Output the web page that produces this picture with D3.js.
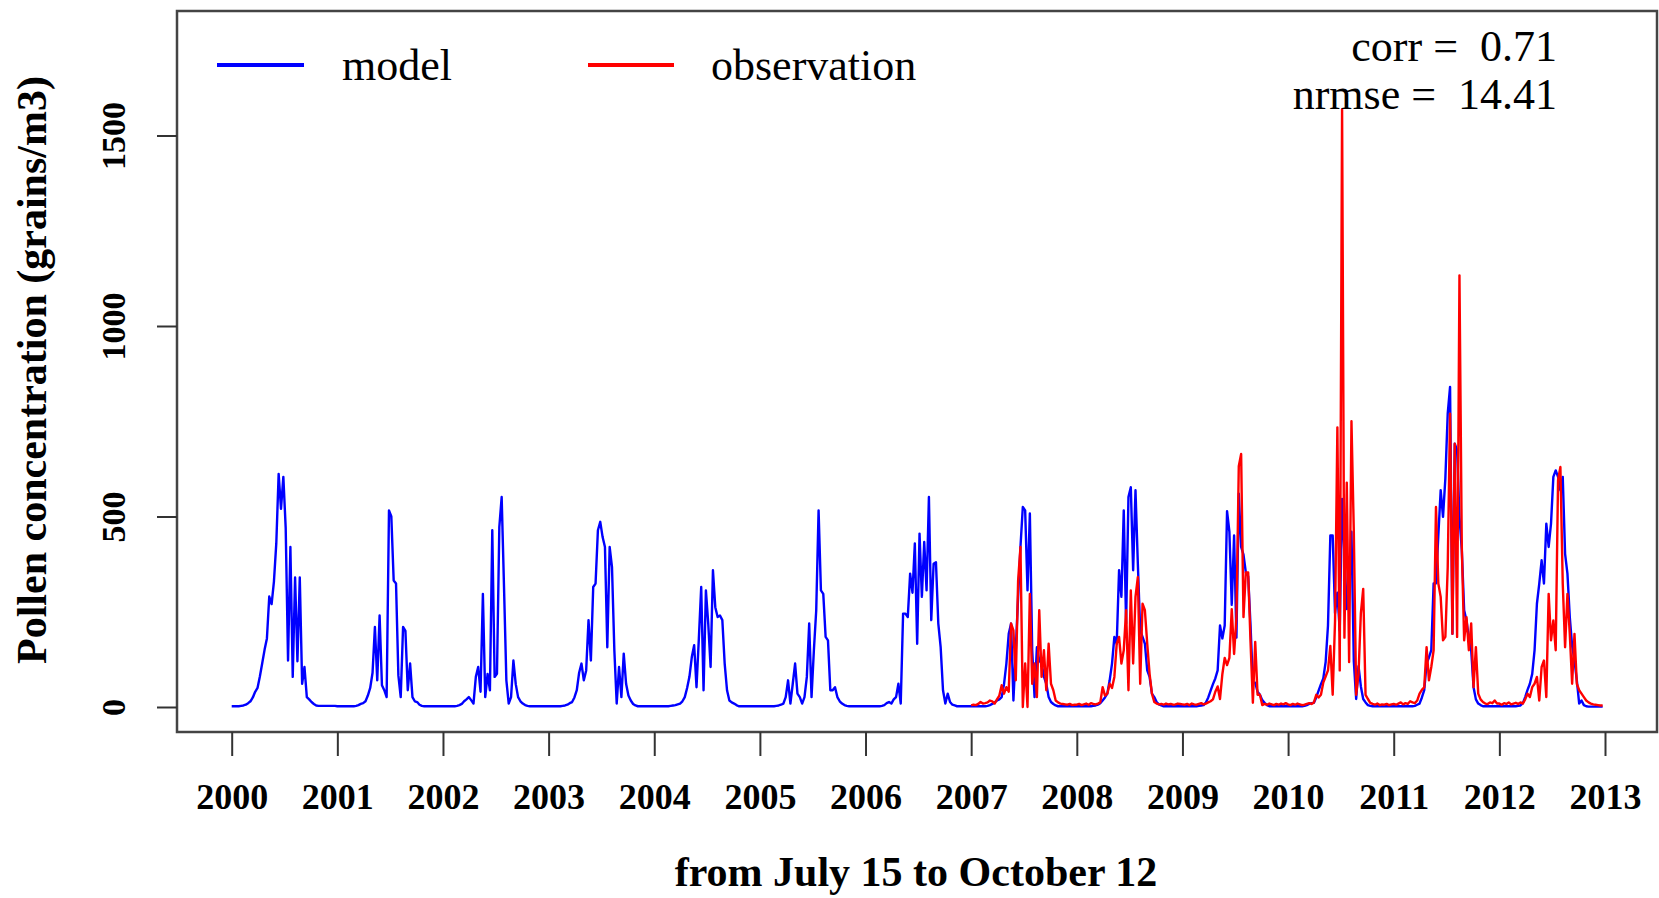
<!DOCTYPE html>
<html lang="en">
<head>
<meta charset="utf-8">
<title>Pollen model vs observation</title>
<script src="https://d3js.org/d3.v7.min.js"></script>
<style>
    body { margin: 0; background: #fff; }
    .axis text { font-family: "Liberation Serif", "Times New Roman", serif; font-weight: bold; fill: #000; }
    .axis line, .axis path { stroke: #333; stroke-width: 2px; }
    .lbl { font-family: "Liberation Serif", "Times New Roman", serif; fill: #000; }
</style>
</head>
<body>
<div id="chart"></div>
<script>
// each season: 45 samples, from July 15 to October 12
var years = [2000, 2001, 2002, 2003, 2004, 2005, 2006, 2007, 2008, 2009, 2010, 2011, 2012]
var obsYears = [2007, 2008, 2009, 2010, 2011, 2012]
var xTicks = [2000, 2001, 2002, 2003, 2004, 2005, 2006, 2007, 2008, 2009, 2010, 2011, 2012, 2013]
var yTicks = [0, 500, 1000, 1500]

var model2000 = [2,2,2,2,3,4,6,10,15,25,40,50,80,115,150,180,290,270,330,430,612,520,604,470,122,420,79,340,120,340,61,105,26,20,13,8,4,3,3,3,3,3,3,3,3]
var model2001 = [2,2,2,2,2,2,2,2,3,5,8,10,15,30,50,90,210,70,240,57,44,26,516,500,332,324,83,26,210,200,44,114,26,15,13,6,3,2,2,2,2,2,2,2,2]
var model2002 = [2,2,2,2,2,2,3,5,8,15,20,26,18,9,79,105,40,297,26,87,44,464,79,87,472,551,315,70,9,26,122,60,26,15,9,5,3,2,2,2,2,2,2,2,2]
var model2003 = [2,2,2,2,2,2,3,4,6,10,13,25,44,90,114,70,96,228,122,315,324,464,486,446,420,157,420,367,149,9,105,26,140,61,30,17,8,4,2,2,2,2,2,2,2]
var model2004 = [2,2,2,2,2,2,2,3,4,5,7,9,15,26,50,80,131,162,52,180,315,44,306,219,105,359,262,236,240,228,114,44,17,12,9,5,2,2,2,2,2,2,2,2,2]
var model2005 = [2,2,2,2,2,2,2,3,4,6,9,26,70,9,61,114,35,26,9,26,79,219,26,149,254,516,306,297,184,175,44,44,52,26,15,9,5,3,2,2,2,2,2,2,2]
var model2006 = [2,2,2,2,2,2,2,3,5,10,13,9,20,26,61,9,245,245,236,350,300,429,166,455,289,433,306,551,228,376,380,219,157,44,9,35,13,6,4,2,2,2,2,2,2]
var model2007 = [2,2,2,2,2,2,2,3,5,8,12,17,20,26,60,114,192,219,17,150,289,420,525,516,306,508,149,26,157,122,114,80,61,26,13,8,4,2,2,2,2,2,2,2,2]
var model2008 = [2,2,2,2,2,2,2,3,4,6,10,17,25,35,70,114,184,166,359,289,516,219,551,577,359,569,376,201,184,166,96,79,35,26,13,7,4,2,2,2,2,2,2,2,2]
var model2009 = [2,2,2,2,2,2,2,3,4,5,12,25,43,60,75,96,214,180,214,514,460,268,450,182,560,420,400,353,343,214,64,64,40,32,18,11,5,2,2,2,2,2,2,2,2]
var model2010 = [2,2,2,2,2,2,2,3,5,8,10,11,25,43,60,75,118,214,450,450,246,300,200,546,400,257,300,460,120,21,107,54,21,12,5,3,2,2,2,2,2,2,2,2,2]
var model2011 = [2,2,2,2,2,2,2,2,2,3,6,9,25,44,114,130,149,324,324,450,569,499,600,770,840,192,691,674,500,411,254,227,180,149,52,20,9,5,2,2,2,2,2,2,2]
var model2012 = [2,2,2,2,2,2,2,2,3,4,10,26,45,61,87,149,271,324,385,324,481,420,481,604,621,604,569,604,402,350,236,160,122,70,9,17,5,2,1,1,1,1,1,1,1]

var obs2007 = [4,6,5,8,13,9,10,12,17,15,9,20,30,57,35,52,40,219,201,70,332,420,0,114,0,297,61,114,26,254,79,149,44,166,61,44,17,12,9,8,7,6,8,5,6]
var obs2008 = [6,8,5,7,9,6,10,8,7,9,12,52,30,35,61,50,79,166,184,114,149,254,44,306,114,289,341,61,271,254,166,87,35,13,9,7,8,6,9,7,8,6,7,9,8]
var obs2009 = [7,6,8,5,9,7,6,8,10,7,9,12,15,20,40,54,21,86,129,110,129,257,139,236,632,664,236,353,353,171,11,171,32,32,5,8,6,9,7,5,8,6,9,7,10]
var obs2010 = [7,5,8,6,9,7,5,6,8,10,8,12,32,25,32,64,80,96,160,32,225,734,96,1569,182,589,118,750,460,32,86,246,310,32,21,11,8,6,9,5,7,6,8,5,7]
var obs2011 = [8,6,9,12,7,10,8,15,12,10,17,35,45,52,157,70,105,149,525,324,289,175,184,367,770,192,691,184,1133,420,175,236,149,219,52,157,35,20,13,9,8,12,10,17,9]
var obs2012 = [9,6,10,8,12,7,9,11,8,12,9,20,35,26,52,61,79,17,105,122,26,297,175,227,149,595,630,324,157,297,192,61,192,61,44,35,26,17,12,9,7,6,5,4,4]

var modelSeasons = [model2000, model2001, model2002, model2003, model2004, model2005, model2006,
                    model2007, model2008, model2009, model2010, model2011, model2012]
var obsSeasons = [obs2007, obs2008, obs2009, obs2010, obs2011, obs2012]

// flatten seasons into {x, y} points, x = year + fraction of season
function toPoints(yrs, seasons) {
    var pts = []
    yrs.forEach(function(yr, k) {
        var s = seasons[k]
        s.forEach(function(v, i) {
            pts.push({x: yr + i / s.length, y: v})
        })
    })
    return pts
}

var modelData = toPoints(years, modelSeasons)
var obsData = toPoints(obsYears, obsSeasons)

var w = 1659
var h = 898
var box = {left: 177, top: 11, right: 1657, bottom: 732}

var svg = d3.select("#chart")
    .append("svg")
    .attr("width", w)
    .attr("height", h)

var xScale = d3.scaleLinear()
    .domain([2000, 2013])
    .range([231.7, 1605])

var yScale = d3.scaleLinear()
    .domain([0, 1500])
    .range([707, 135.5])

var line = d3.line()
    .x(function(d) { return xScale(d.x) })
    .y(function(d) { return yScale(d.y) })

//series
svg.append("path")
    .datum(modelData)
    .attr("d", line)
    .attr("fill", "none")
    .attr("stroke", "#0000ff")
    .attr("stroke-width", 2.4)
    .attr("stroke-linejoin", "round")

svg.append("path")
    .datum(obsData)
    .attr("d", line)
    .attr("fill", "none")
    .attr("stroke", "#ff0000")
    .attr("stroke-width", 2.4)
    .attr("stroke-linejoin", "round")

//box
svg.append("rect")
    .attr("x", box.left)
    .attr("y", box.top)
    .attr("width", box.right - box.left)
    .attr("height", box.bottom - box.top)
    .attr("fill", "none")
    .attr("stroke", "#444")
    .attr("stroke-width", 2.5)

//y axis
var yAxis = d3.axisLeft(yScale)
    .tickValues(yTicks)
    .tickFormat(d3.format("d"))
    .tickSize(20)
    .tickSizeOuter(0)

var gy = svg.append("g")
    .attr("class", "axis")
    .attr("transform", "translate(" + box.left + ",0)")
    .call(yAxis)
gy.select(".domain").remove()
gy.selectAll("text")
    .attr("transform", "rotate(-90)")
    .attr("x", 0)
    .attr("y", -52)
    .attr("dy", 0)
    .attr("text-anchor", "middle")
    .style("font-size", "34px")

//x axis
var xAxis = d3.axisBottom(xScale)
    .tickValues(xTicks)
    .tickFormat(d3.format("d"))
    .tickSize(24)
    .tickSizeOuter(0)

var gx = svg.append("g")
    .attr("class", "axis")
    .attr("transform", "translate(0," + box.bottom + ")")
    .call(xAxis)
gx.select(".domain").remove()
gx.selectAll("text")
    .attr("y", 77)
    .attr("dy", 0)
    .style("font-size", "36px")

//titles
svg.append("text")
    .attr("class", "lbl")
    .attr("x", (box.left + box.right) / 2 - 1)
    .attr("y", 886)
    .attr("text-anchor", "middle")
    .style("font-size", "42px")
    .style("font-weight", "bold")
    .text("from July 15 to October 12")

svg.append("text")
    .attr("class", "lbl")
    .attr("transform", "translate(46,370) rotate(-90)")
    .attr("text-anchor", "middle")
    .style("font-size", "42px")
    .style("font-weight", "bold")
    .text("Pollen concentration (grains/m3)")

//legend
var legend = [
    {name: "model", color: "#0000ff", x1: 217, x2: 304, tx: 342},
    {name: "observation", color: "#ff0000", x1: 588, x2: 674, tx: 711}
]
legend.forEach(function(d) {
    svg.append("line")
        .attr("x1", d.x1).attr("x2", d.x2)
        .attr("y1", 65).attr("y2", 65)
        .attr("stroke", d.color)
        .attr("stroke-width", 4)
    svg.append("text")
        .attr("class", "lbl")
        .attr("x", d.tx)
        .attr("y", 80)
        .style("font-size", "44px")
        .text(d.name)
})

//statistics
svg.append("text")
    .attr("class", "lbl")
    .attr("x", 1557)
    .attr("y", 61)
    .attr("text-anchor", "end")
    .style("white-space", "pre")
    .style("font-size", "44px")
    .text("corr =  0.71")

svg.append("text")
    .attr("class", "lbl")
    .attr("x", 1557)
    .attr("y", 109)
    .attr("text-anchor", "end")
    .style("white-space", "pre")
    .style("font-size", "44px")
    .text("nrmse =  14.41")
</script>
</body>
</html>
